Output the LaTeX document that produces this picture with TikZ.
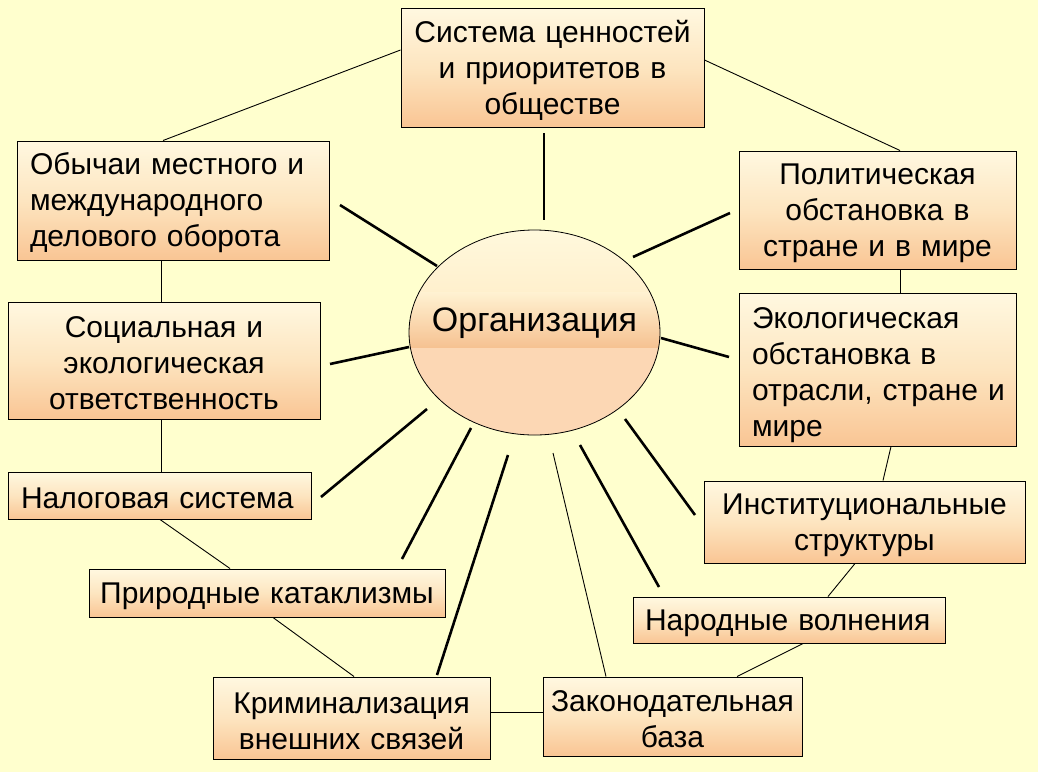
\documentclass[tikz,border=0pt]{standalone}
\usepackage{fontspec}
\setmainfont{Liberation Sans}
\usetikzlibrary{shapes.geometric}
\definecolor{bg}{RGB}{255,255,206}
\definecolor{boxtop}{RGB}{255,248,224}
\definecolor{boxmid}{RGB}{253,229,192}
\definecolor{boxbot}{RGB}{249,197,148}
\definecolor{orgtop}{RGB}{255,249,222}
\definecolor{orgtopb}{RGB}{255,240,205}
\definecolor{bandtop}{RGB}{255,242,210}
\definecolor{bandbot}{RGB}{246,194,146}
\definecolor{orgbot}{RGB}{252,215,180}
\tikzset{
  box/.style={draw=black, line width=1pt, top color=boxtop, bottom color=boxbot, middle color=boxmid,
    inner sep=0pt, font=\fontsize{30}{36}\selectfont, execute at begin node={\rule{0pt}{27pt}}},
  cbox/.style={box, align=center},
  lbox/.style={box, align=left},
  spoke/.style={line width=2.6pt},
  thin/.style={line width=0.9pt}
}
\begin{document}
\begin{tikzpicture}[x=1pt,y=-1pt]
\fill[bg] (0,0) rectangle (1038,772);
\useasboundingbox (0,0) rectangle (1038,772);

% boxes
\node[cbox, minimum width=303, minimum height=119, text width=299] (top) at (552.5,67.5)
  {Система ценностей\\и приоритетов в\\обществе};
\node[lbox, minimum width=312, minimum height=119, text width=286] (obych) at (173,200.5)
  {\mbox{Обычаи местного и}\\\mbox{международного}\\\mbox{делового оборота}};
\node[cbox, minimum width=312, minimum height=117, text width=308] (soc) at (164,360.5)
  {Социальная и\\экологическая\\ответственность};
\node[lbox, minimum width=303, minimum height=47, text width=277] (nalog) at (159.5,495.5)
  {\mbox{Налоговая система}};
\node[cbox, minimum width=356, minimum height=48, text width=352] (prirod) at (267,593)
  {Природные катаклизмы};
\node[cbox, minimum width=277, minimum height=82, text width=273] (krim) at (351.5,718)
  {Криминализация\\внешних связей};
\node[cbox, minimum width=259, minimum height=79, text width=257] (zakon) at (672.5,716.5)
  {Законодательная\\база};
\node[lbox, minimum width=312, minimum height=46, text width=288] (narod) at (789,620)
  {\mbox{Народные волнения}};
\node[cbox, minimum width=321, minimum height=82, text width=317] (instit) at (864.5,522)
  {Институциональные\\структуры};
\node[lbox, minimum width=277, minimum height=153, text width=251] (ekol) at (877.5,369.5)
  {\rule{0pt}{33pt}\mbox{Экологическая}\\\mbox{обстановка в}\\\mbox{отрасли, стране и}\\\mbox{мире}};
\node[cbox, minimum width=277, minimum height=118, text width=273] (polit) at (877.5,210)
  {Политическая\\обстановка в\\стране и в мире};

% central ellipse
\begin{scope}
  \clip (534.5,332.5) ellipse [x radius=125.5, y radius=102.5];
  \fill[orgbot] (405,225) rectangle (665,440);
  \shade[top color=orgtop, bottom color=orgtopb] (405,225) rectangle (665,292);
  \shade[top color=bandtop, bottom color=bandbot] (405,292) rectangle (665,347);
\end{scope}
\node[ellipse, draw=black, line width=0.8pt, minimum width=251, minimum height=205, inner sep=0pt] (org) at (534.5,332.5) {};
\node[font=\fontsize{34}{40}\selectfont, inner sep=0pt] (orgtext) at (534.5,323) {Организация};

% spokes (free-floating thick lines)
\coordinate (a1) at (544,133);  \coordinate (b1) at (544,220);
\coordinate (a2) at (340,205);  \coordinate (b2) at (437,266);
\coordinate (a3) at (330,364);  \coordinate (b3) at (409,347);
\coordinate (a4) at (321,497);  \coordinate (b4) at (427,409);
\coordinate (a5) at (402,559);  \coordinate (b5) at (471,428);
\coordinate (a6) at (437,675);  \coordinate (b6) at (508,455);
\coordinate (b7) at (553,453);
\coordinate (a8) at (659,587);  \coordinate (b8) at (580,445);
\coordinate (a9) at (695,515);  \coordinate (b9) at (625,419);
\coordinate (a10) at (729,357); \coordinate (b10) at (661,338);
\coordinate (a11) at (730,213); \coordinate (b11) at (633,257);
\foreach \i in {1,2,3,4,5,6,8,9,10,11} \draw[spoke] (a\i) -- (b\i);
\draw[thin] (b7) -- (zakon.north -| 606,0);

% thin links between boxes
\draw[thin] (top.west |- 0,50) -- (obych.north -| 163,0);
\draw[thin] (top.east |- 0,60) -- (polit.north -| 900,0);
\draw[thin] (obych.south -| 161,0) -- (soc.north -| 161,0);
\draw[thin] (soc.south -| 161,0) -- (nalog.north -| 161,0);
\draw[thin] (nalog.south -| 160,0) -- (prirod.north -| 230,0);
\draw[thin] (prirod.south -| 273,0) -- (krim.north -| 354,0);
\draw[thin] (krim.east |- 0,712) -- (zakon.west |- 0,712);
\draw[thin] (zakon.north -| 737,0) -- (narod.south -| 803,0);
\draw[thin] (narod.north -| 828,0) -- (instit.south -| 855,0);
\draw[thin] (instit.north -| 883,0) -- (ekol.south -| 891,0);
\draw[thin] (polit.south -| 900,0) -- (ekol.north -| 900,0);
\end{tikzpicture}
\end{document}
